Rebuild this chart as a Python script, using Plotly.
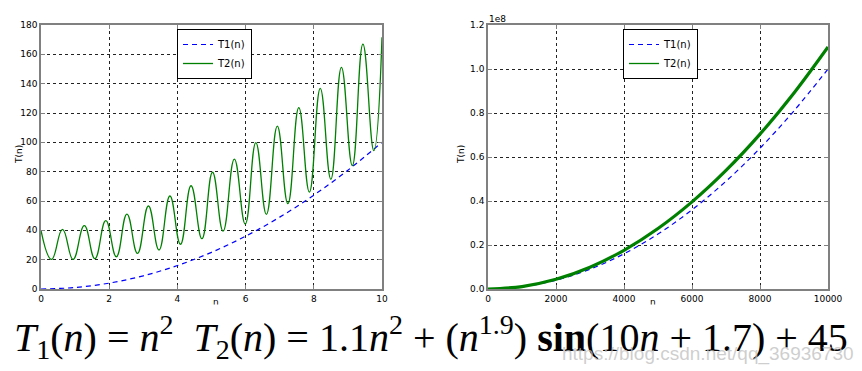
import plotly.graph_objects as go

# ---- data ----
# left panel (small n)
n_small = [0, 1, 2, 3, 4, 5, 6, 7, 8, 9, 10]
t1_small = [0, 1, 4, 9, 16, 25, 36, 49, 64, 81, 100]

n_t2_small = [0, 0.31, 0.63, 0.94, 1.27, 1.58, 1.90, 2.21, 2.52, 2.83, 3.15,
              3.46, 3.78, 4.09, 4.40, 4.72, 5.03, 5.34, 5.67, 5.99, 6.30,
              6.61, 6.93, 7.24, 7.56, 7.87, 8.19, 8.50, 8.81, 9.13, 9.44,
              9.76, 10.0]
t2_small = [40, 20.2, 40.7, 20.2, 43.2, 20.7, 46.6, 22.0, 51.1, 24.3, 56.6,
            26.6, 63.4, 30.5, 70.4, 34.3, 79.6, 39.5, 88.6, 44.3, 99.8,
            50.9, 111.1, 58.2, 123.6, 66.1, 136.8, 74.8, 151.1, 84.1, 167.0,
            94.3, 171.6]

# right panel (large n)
n_large = [0, 1000, 2000, 3000, 4000, 5000, 6000, 7000, 8000, 9000, 10000]
t1_large = [0, 1.0e6, 4.0e6, 9.0e6, 1.6e7, 2.5e7, 3.6e7, 4.9e7, 6.4e7, 8.1e7, 1.0e8]
t2_large = [0, 1.1e6, 4.4e6, 9.9e6, 1.76e7, 2.75e7, 3.96e7, 5.39e7, 7.04e7, 8.91e7, 1.10e8]

left_xticks = [0, 2, 4, 6, 8, 10]
left_yticks = [0, 20, 40, 60, 80, 100, 120, 140, 160, 180]
right_xticks = [0, 2000, 4000, 6000, 8000, 10000]
right_xticktext = ["0", "2000", "4000", "6000", "8000", "10000"]
right_yticks = [0, 0.2e8, 0.4e8, 0.6e8, 0.8e8, 1.0e8, 1.2e8]
right_yticktext = ["0.0", "0.2", "0.4", "0.6", "0.8", "1.0", "1.2"]

W, H = 862, 371
BLUE = "#0000ff"
GREEN = "#008000"
TICKFONT = dict(family="DejaVu Sans", size=9, color="black")
LEGFONT = dict(family="DejaVu Sans", size=10, color="black")

fig = go.Figure()

fig.add_trace(go.Scatter(x=n_small, y=t1_small, mode="lines", name="T1(n)",
                         line=dict(color=BLUE, width=1.2, dash="5px,4px", shape="spline"),
                         xaxis="x", yaxis="y", legend="legend"))
fig.add_trace(go.Scatter(x=n_t2_small, y=t2_small, mode="lines", name="T2(n)",
                         line=dict(color=GREEN, width=1.3, shape="spline", smoothing=1.3),
                         xaxis="x", yaxis="y", legend="legend"))
fig.add_trace(go.Scatter(x=n_large, y=t1_large, mode="lines", name="T1(n)",
                         line=dict(color=BLUE, width=1.2, dash="5px,4px", shape="spline"),
                         xaxis="x2", yaxis="y2", legend="legend2"))
fig.add_trace(go.Scatter(x=n_large, y=t2_large, mode="lines", name="T2(n)",
                         line=dict(color=GREEN, width=3.2, shape="spline"),
                         xaxis="x2", yaxis="y2", showlegend=False))
# legend-only entry with the thin line style used in the reference legend
fig.add_trace(go.Scatter(x=[None], y=[None], mode="lines", name="T2(n)",
                         line=dict(color=GREEN, width=1.3),
                         xaxis="x2", yaxis="y2", legend="legend2"))

axis_common = dict(showline=True, mirror="ticks", linecolor="#808080", linewidth=1.5,
                   showgrid=True, gridcolor="#222222", gridwidth=1, griddash="dot",
                   ticks="inside", ticklen=4, tickcolor="#808080",
                   tickfont=TICKFONT, zeroline=False, fixedrange=True,
                   automargin=False)

ydom = [82 / H, 346 / H]
fig.update_layout(
    width=W, height=H,
    margin=dict(l=0, r=0, t=0, b=0, autoexpand=False),
    paper_bgcolor="white", plot_bgcolor="white",
    xaxis=dict(domain=[41 / W, 382 / W], range=[0, 10], tickvals=left_xticks,
               anchor="y", **axis_common),
    yaxis=dict(domain=ydom, range=[0, 180], tickvals=left_yticks,
               anchor="x", **axis_common),
    xaxis2=dict(domain=[488 / W, 828 / W], range=[0, 10000], tickvals=right_xticks,
                ticktext=right_xticktext, anchor="y2", **axis_common),
    yaxis2=dict(domain=ydom, range=[0, 1.2e8], tickvals=right_yticks,
                ticktext=right_yticktext, anchor="x2", **axis_common),
    legend=dict(x=177 / W, xanchor="left", y=1 - 29 / H, yanchor="top",
                bgcolor="white", bordercolor="black", borderwidth=1,
                font=LEGFONT, itemwidth=30, tracegroupgap=0),
    legend2=dict(x=623 / W, xanchor="left", y=1 - 29 / H, yanchor="top",
                 bgcolor="white", bordercolor="black", borderwidth=1,
                 font=LEGFONT, itemwidth=30, tracegroupgap=0),
    showlegend=True,
)

SMALL = dict(family="DejaVu Sans", size=9, color="black")
annotations = [
    dict(text="T(n)", x=12 / W, y=1 - 155 / H, xref="paper", yref="paper",
         textangle=-90, showarrow=False, font=SMALL),
    dict(text="T(n)", x=461 / W, y=1 - 155 / H, xref="paper", yref="paper",
         textangle=-90, showarrow=False, font=SMALL),
    # axis labels "n" – partly hidden behind the formula, as in the reference
    dict(text="n", x=211 / W, y=1 - 309 / H, xref="paper", yref="paper",
         showarrow=False, font=SMALL),
    dict(text="n", x=658 / W, y=1 - 309 / H, xref="paper", yref="paper",
         showarrow=False, font=SMALL),
    dict(text="1e8", x=487 / W, y=1 - 19 / H, xref="paper", yref="paper",
         xanchor="left", yanchor="middle", showarrow=False, font=SMALL),
    dict(text="<i>T</i><sub>1</sub>(<i>n</i>) = <i>n</i><sup>2</sup>  "
              "<i>T</i><sub>2</sub>(<i>n</i>) = 1.1<i>n</i><sup>2</sup> + "
              "(<i>n</i><sup>1.9</sup>) <b>sin</b>(10<i>n</i> + 1.7) + 45",
         x=431 / W, y=1 - 337 / H, xref="paper", yref="paper",
         xanchor="center", yanchor="middle", showarrow=False,
         bgcolor="white", borderpad=4,
         font=dict(family="Liberation Serif", size=40, color="black")),
    dict(text="https://blog.csdn.net/qq_36936730", x=856 / W, y=1 - 354 / H,
         xref="paper", yref="paper", xanchor="right", yanchor="middle", showarrow=False,
         font=dict(family="Liberation Sans Narrow, Liberation Sans", size=19,
                   color="rgba(190,190,190,0.75)")),
]
fig.update_layout(annotations=annotations)

fig.write_html(
    "out.html",
    config={"displayModeBar": False},
    post_script="document.body.style.margin='0';document.body.style.padding='0';"
                "document.documentElement.style.overflow='hidden';",
)
